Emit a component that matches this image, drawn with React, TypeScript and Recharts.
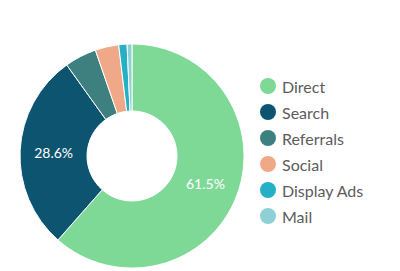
import { PieChart, Pie, Cell, Legend } from 'recharts'

const sources = ['Direct', 'Search', 'Referrals', 'Social', 'Display Ads', 'Mail']
const shares = [61.5, 28.6, 4.6, 3.4, 1.2, 0.7]
const colors = ['#7fd996', '#0d5470', '#3e8080', '#f0a988', '#26b0c5', '#8fd0d6']

const chartData = sources.map((name, i) => ({ name, value: shares[i] }))

const RAD = Math.PI / 180

function renderLabel(props: any) {
  const { cx, cy, midAngle, innerRadius, outerRadius, value } = props
  if (value < 10) return null
  const r = (innerRadius + outerRadius) / 2
  const x = cx + r * Math.cos(-midAngle * RAD)
  const y = cy + r * Math.sin(-midAngle * RAD)
  return (
    <text
      x={x}
      y={y}
      fill="#fff"
      fontSize={14}
      fontFamily="Lato, sans-serif"
      textAnchor="middle"
      dominantBaseline="central"
    >
      {value.toFixed(1)}%
    </text>
  )
}

function renderLegend() {
  return (
    <div>
      {sources.map((s, i) => (
        <div key={s} style={{ display: 'flex', alignItems: 'center', height: 26 }}>
          <span
            style={{
              width: 16,
              height: 16,
              borderRadius: 8,
              background: colors[i],
              marginRight: 6,
            }}
          />
          <span style={{ color: '#5c5c5c', fontSize: 16, fontFamily: 'Lato, sans-serif' }}>{s}</span>
        </div>
      ))}
    </div>
  )
}

export default function App() {
  return (
    <div style={{ position: 'absolute', left: 0, top: 0, background: '#fff' }}>
      <PieChart width={400} height={271}>
        <Pie
          data={chartData}
          dataKey="value"
          nameKey="name"
          cx={127}
          cy={151}
          innerRadius={45}
          outerRadius={112}
          startAngle={90}
          endAngle={-270}
          stroke="#fff"
          strokeWidth={1}
          label={renderLabel}
          labelLine={false}
          isAnimationActive={false}
        >
          {chartData.map((d, i) => (
            <Cell key={d.name} fill={colors[i]} />
          ))}
        </Pie>
        <Legend
          content={renderLegend}
          wrapperStyle={{ position: 'absolute', left: 260, top: 73, width: 140 }}
        />
      </PieChart>
    </div>
  )
}
